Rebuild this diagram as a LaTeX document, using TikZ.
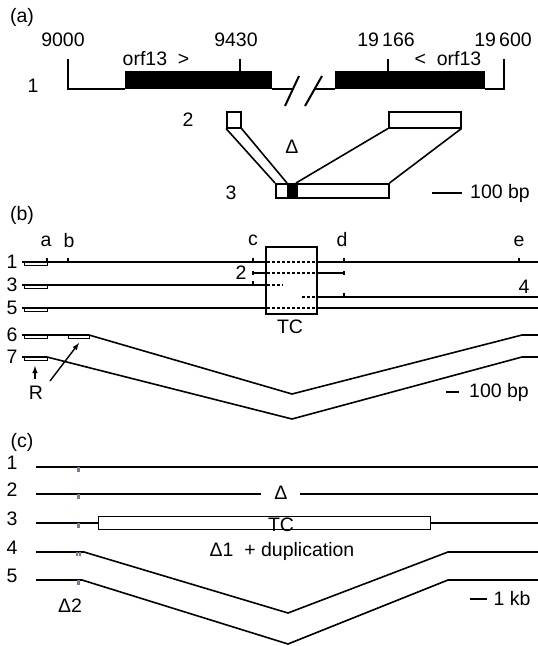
\documentclass[tikz,border=0pt]{standalone}
\usepackage{fontspec}
\setmainfont{Liberation Sans}
\usepackage{xcolor}
\usepackage{tikz}
\usetikzlibrary{positioning}
\definecolor{markgray}{rgb}{0.45,0.5,0.6}
\tikzset{
  Linie/.style={line width=1.6pt}, % Linien in (b) und (c)
  ALinie/.style={line width=2pt},% Linien in (a)
  Block/.style={draw, line width=1.6pt, fill=black, inner sep=0pt},
  Kasten/.style={draw, line width=1.5pt, fill=white, inner sep=0pt},
  RKasten/.style={draw, line width=1.1pt, fill=white, inner sep=0pt,
    minimum width=23pt, minimum height=3.5pt, anchor=north west},
  Strich/.style={line width=1.4pt, dash pattern=on 3pt off 2pt,
    shorten <=2pt, shorten >=2pt},
  Pfeil/.style={line width=1.4pt,->},
  Txt/.style={font=\fontsize{19.5}{22}\selectfont, inner sep=0pt}
}

\begin{document}
\begin{tikzpicture}[x=1pt, y=-1pt,
>=latex % Pfeilspitzen
]
\useasboundingbox (0,0) rectangle (538,646);

%Teil (a)
\node[Txt] (La) at (22,17) {(a)};
\node[Txt] (a1) at (33,86) {1};
\node[Txt] (a2) at (188,120) {2};
\node[Txt] (a3) at (231,193) {3};
\node[Txt] (p9000) at (63,40) {9000};
\node[Txt] (p9430) at (236,40) {9430};
\node[Txt] (p19166) at (386,40) {19\,166};
\node[Txt] (p19600) at (503,40) {19\,600};
\node[Txt] (orfL) at (156,59) {orf13 \ >};
\node[Txt] (orfR) at (448,59) {< \ orf13};

\node[Block, minimum width=145pt, minimum height=16pt, anchor=south west] (gL) at (125,89) {};
\node[Block, minimum width=148pt, minimum height=16pt, anchor=south west] (gR) at (335,89) {};

\coordinate (A0) at (68,89);   \coordinate (A0o) at (68,59);
\coordinate (A1) at (504,89);  \coordinate (A1o) at (504,59);
\coordinate (T1) at (240,59);  \coordinate (T2) at (388,59);
\coordinate (Bl) at (293,89);  \coordinate (Br) at (315,89);
\coordinate (S1u) at (285,106); \coordinate (S1o) at (299,76);
\coordinate (S2u) at (305,106); \coordinate (S2o) at (322,76);

\draw[ALinie] (A0o) -- (A0) -- (gL.south west);
\draw[ALinie] (gL.south east) -- (Bl);
\draw[ALinie] (Br) -- (gR.south west);
\draw[ALinie] (gR.south east) -- (A1) -- (A1o);
\draw[ALinie] (S1u) -- (S1o);
\draw[ALinie] (S2u) -- (S2o);
\draw[ALinie] (T1) -- (T1 |- gL.north);
\draw[ALinie] (T2) -- (T2 |- gR.north);

\node[Kasten, minimum width=14pt, minimum height=16pt, anchor=north west] (k2l) at (226,111) {};
\node[Kasten, minimum width=72pt, minimum height=16pt, anchor=north west] (k2r) at (388,111) {};
\node[Kasten, minimum width=12pt, minimum height=14pt, anchor=north west] (k3a) at (275,183) {};
\node[Block, minimum width=9pt, minimum height=14pt, anchor=north west, line width=1.5pt] (k3b) at (287,183) {};
\node[Kasten, minimum width=92pt, minimum height=14pt, anchor=north west] (k3c) at (296,183) {};

\draw[Linie] (k2l.south west) -- (k3a.north west);
\draw[Linie] (k2l.south east) -- (k3b.north west);
\draw[Linie] (k2r.south west) -- (k3c.north west);
\draw[Linie] (k2r.south east) -- (k3c.north east);
\node[Txt] (aD) at (292,147) {Δ};

\coordinate (Ma) at (432,193); \coordinate (Mb) at (462,193);
\draw[line width=2.2pt] (Ma) -- (Mb);
\node[Txt] (m100a) at (500,193) {100 bp};

%Teil (b)
\node[Txt] (Lb) at (22,215) {(b)};
\node[Txt] (ba) at (46,241) {a};
\node[Txt] (bb) at (69,241) {b};
\node[Txt] (bc) at (253,240) {c};
\node[Txt] (bd) at (342,240) {d};
\node[Txt] (be) at (519,241) {e};
\node[Txt] (b2) at (241,273) {2};
\node[Txt] (b4) at (524,287) {4};

\node[Kasten, minimum width=51pt, minimum height=67pt, anchor=north west] (TC) at (265,246) {};
\node[Txt] (TCt) at (290,327) {TC};

\coordinate (b1) at (22,262);  \coordinate (b1e) at (538,262);
\coordinate (b2l) at (253,273); \coordinate (b2r) at (344,273);
\coordinate (b3) at (22,285);  \coordinate (b3s) at (283,285);
\coordinate (b4s) at (302,297); \coordinate (b4e) at (538,297);
\coordinate (b5) at (22,308);  \coordinate (b5e) at (538,308);

%Leitungen 1 bis 5
\draw[Linie] (b1) -- (b1 -| TC.west) (b1 -| TC.east) -- (b1e);
\draw[Strich] (b1 -| TC.west) -- (b1 -| TC.east);
\draw[Linie] (b2l) -- (b2l -| TC.west) (b2l -| TC.east) -- (b2r);
\draw[Strich] (b2l -| TC.west) -- (b2l -| TC.east);
\draw[Linie] (b3) -- (b3 -| TC.west);
\draw[Strich, shorten >=0pt] (b3 -| TC.west) -- (b3s);
\draw[Strich, shorten <=0pt] (b4s) -- (b4s -| TC.east);
\draw[Linie] (b4s -| TC.east) -- (b4e);
\draw[Linie] (b5) -- (b5 -| TC.west) (b5 -| TC.east) -- (b5e);
\draw[Strich] (b5 -| TC.west) -- (b5 -| TC.east);

%Markierungen a bis e
\foreach \x in {47,68,253,344,519}
  \draw[line width=1.1pt] (\x,262) -- ++(0,-4);
\draw[line width=1.1pt] (253,271) -- ++(0,4);
\draw[line width=1.1pt] (344,271) -- ++(0,4);
\draw[line width=1.1pt] (253,285) -- ++(0,-4);
\draw[line width=1.1pt] (344,297) -- ++(0,-4);

%Leitungen 6 und 7
\coordinate (b6) at (22,335);  \coordinate (b6a) at (89,335);
\coordinate (b6m) at (292,394); \coordinate (b6b) at (522,335);
\coordinate (b6e) at (538,335);
\coordinate (b7) at (22,357);  \coordinate (b7a) at (47,357);
\coordinate (b7m) at (292,419); \coordinate (b7b) at (522,357);
\coordinate (b7e) at (538,357);
\draw[Linie] (b6) -- (b6a) -- (b6m) -- (b6b) -- (b6e);
\draw[Linie] (b7) -- (b7a) -- (b7m) -- (b7b) -- (b7e);

\foreach \y/\n in {262/1,285/3,308/5,335/6,357/7}{%
  \node[Txt] (z\n) at (12,\y) {\n};
  \node[RKasten] (r\n) at (24,\y-0.5) {};
};
\node[RKasten, minimum width=21pt] (r6b) at (68,334.5) {};

\node[Txt] (R) at (36,393) {R};
\coordinate (Pu) at (35,379); \coordinate (Po) at (35,366);
\coordinate (Qu) at (50,381); \coordinate (Qo) at (79,343);
\draw[Pfeil] (Pu) -- (Po);
\draw[Pfeil] (Qu) -- (Qo);

\coordinate (Mc) at (446,392); \coordinate (Md) at (459,392);
\draw[line width=2.2pt] (Mc) -- (Md);
\node[Txt] (m100b) at (499,392) {100 bp};

%Teil (c)
\node[Txt] (Lc) at (22,442) {(c)};
\foreach \y/\n in {467/1,494/2,523/3,552/4,580/5}
  \node[Txt] (c\n) at (12,\y-4) {\n};

\coordinate (c1) at (36,467);  \coordinate (c1e) at (538,467);
\coordinate (c2) at (36,494);  \coordinate (c2a) at (261,494);
\coordinate (c2b) at (300,494); \coordinate (c2e) at (538,494);
\coordinate (c3) at (36,523);  \coordinate (c3e) at (538,523);
\coordinate (c4) at (36,552);  \coordinate (c4a) at (84,552);
\coordinate (c4m) at (288,613); \coordinate (c4b) at (448,552);
\coordinate (c4e) at (538,552);
\coordinate (c5) at (36,580);  \coordinate (c5a) at (82,580);
\coordinate (c5m) at (288,644); \coordinate (c5b) at (448,580);
\coordinate (c5e) at (538,580);

\node[Kasten, minimum width=332pt, minimum height=13pt, anchor=west, line width=1.3pt] (tc3) at (98,523) {};
\node[Txt] (TCc) at (281,525) {TC};

\draw[Linie] (c1) -- (c1e);
\draw[Linie] (c2) -- (c2a) (c2b) -- (c2e);
\draw[Linie] (c3) -- (tc3.west) (tc3.east) -- (c3e);
\draw[Linie] (c4) -- (c4a) -- (c4m) -- (c4b) -- (c4e);
\draw[Linie] (c5) -- (c5a) -- (c5m) -- (c5b) -- (c5e);

\foreach \y in {467,494,523,580}
  \fill[markgray] (77,\y) rectangle (79.5,\y+5);
\fill[markgray] (76,552) rectangle (78,556) (79,552) rectangle (81,556);

\node[Txt] (cD) at (281,493) {Δ};
\node[Txt] (cDup) at (282,551) {Δ1 \ + duplication};
\node[Txt] (cD2) at (70,606) {Δ2};

\coordinate (Me) at (470,599); \coordinate (Mf) at (487,599);
\draw[line width=2.2pt] (Me) -- (Mf);
\node[Txt] (m1kb) at (512,599) {1 kb};
\end{tikzpicture}
\end{document}
